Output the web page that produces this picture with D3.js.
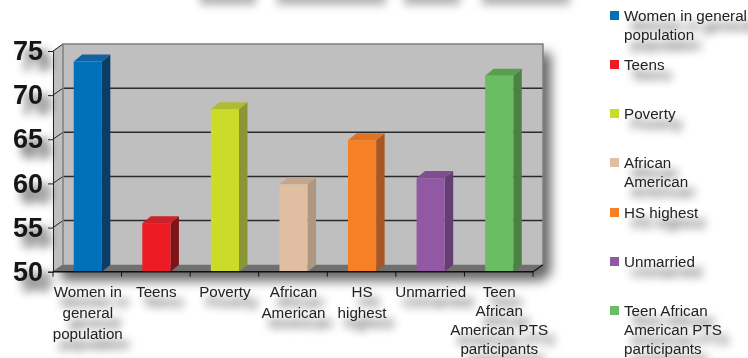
<!DOCTYPE html>
<html>
<head>
<meta charset="utf-8">
<script src="https://cdnjs.cloudflare.com/ajax/libs/d3/7.8.5/d3.min.js"></script>
<style>
html,body{margin:0;padding:0;background:#fff}
svg{display:block}
text{font-family:"Liberation Sans",Arial,sans-serif}
</style>
</head>
<body>
<script>
// Percent of births by group, charted as pseudo-3D columns
const categories = ["Women in general population","Teens","Poverty","African American","HS highest","Unmarried","Teen African American PTS participants"];
const values = [73.8,55.5,68.4,59.9,64.9,60.6,72.2];
const colors = ["#0070BA","#ED1C24","#CBDB2A","#E0BEA2","#F68026","#9159A4","#6ABD62"];
const sideColors = ["#0C3D66","#7F1418","#8A9636","#AE9680","#A85623","#653F73","#4B8243"];
const topColors = ["#14619F","#CC2229","#AFBB33","#C2A68D","#DD7325","#7F4E8F","#5A9E50"];
const yTicks = [50,55,60,65,70,75];
const axisLabelLines = [["Women in","general","population"],["Teens"],["Poverty"],["African","American"],["HS","highest"],["Unmarried"],["Teen","African","American PTS","participants"]];
const legendLines = [["Women in general","population"],["Teens"],["Poverty"],["African","American"],["HS highest"],["Unmarried"],["Teen African","American PTS","participants"]];
const legendTop = [13,62,111,160,210,259,308];
const hazeBands = [[200,256],[277,386],[404,460],[482,570]];

const W=748,H=358;
const depthX=10,depthY=7,barDepthX=8.5;
const y=d3.scaleLinear().domain([50,75]).range([271.7,51]);
const x=d3.scaleBand().domain(categories).range([53.5,533.5]).paddingInner(0.59).paddingOuter(0.295);

const svg=d3.select("body").append("svg").attr("width",W).attr("height",H);
const defs=svg.append("defs");
function shadow(id,dx,dy,sd,op){
  const f=defs.append("filter").attr("id",id).attr("x","-40%").attr("y","-60%").attr("width","200%").attr("height","260%");
  f.append("feGaussianBlur").attr("in","SourceAlpha").attr("stdDeviation",sd).attr("result","b");
  f.append("feOffset").attr("in","b").attr("dx",dx).attr("dy",dy).attr("result","o");
  f.append("feComponentTransfer").attr("in","o").attr("result","s").append("feFuncA").attr("type","linear").attr("slope",op);
  const m=f.append("feMerge");
  m.append("feMergeNode").attr("in","s");
  m.append("feMergeNode").attr("in","SourceGraphic");
}
shadow("softText",7,10,5,0.85);
shadow("softBold",8,10,5,0.75);
shadow("softPlot",8,9,6,0.6);
defs.append("filter").attr("id","haze").attr("filterUnits","userSpaceOnUse").attr("x",150).attr("y",-40).attr("width",470).attr("height",90)
  .append("feGaussianBlur").attr("stdDeviation",4);

// Soft smudge along the top edge of the page
svg.append("g").attr("filter","url(#haze)").selectAll("rect").data(hazeBands).join("rect")
  .attr("x",d=>d[0]).attr("width",d=>d[1]-d[0]).attr("y",-12).attr("height",17).attr("fill","#b4b4b4");

// Floor, wall and frame
const plot=svg.append("g");
const chartShadow=plot.append("g").attr("filter","url(#softPlot)");
const x0=53,x1=533,yBottom=y(50),yTop=y(75);
chartShadow.append("path").attr("fill","#BFBFBF")
  .attr("d",`M${x0+depthX},${yTop-depthY}H${x1+depthX}V${yBottom-depthY}L${x1},${yBottom}H${x0}V${yTop}Z`);
plot.append("path").attr("fill","#BFBFBF").attr("d",`M${x0},${yTop}L${x0+depthX},${yTop-depthY}V${yBottom-depthY}L${x0},${yBottom}Z`);
plot.append("path").attr("fill","#707070").attr("d",`M${x0},${yBottom}L${x0+depthX},${yBottom-depthY}H${x1+depthX}L${x1},${yBottom}Z`);

// Gridlines on the back wall and their slanted runs on the side wall
plot.selectAll(".grid").data(yTicks.slice(1,-1)).join("line")
  .attr("x1",x0+depthX).attr("x2",x1+depthX).attr("y1",d=>y(d)-depthY).attr("y2",d=>y(d)-depthY)
  .attr("stroke","#2b2b2b").attr("stroke-width",1.5);
plot.selectAll(".slant").data(yTicks).join("line")
  .attr("x1",x0).attr("x2",x0+depthX).attr("y1",d=>y(d)).attr("y2",d=>y(d)-depthY)
  .attr("stroke",d=>d===50?"#777":"#222").attr("stroke-width",1);
plot.append("path").attr("fill","none").attr("stroke","#808080").attr("stroke-width",1.5)
  .attr("d",`M${x0+depthX},${yBottom-depthY}V${yTop-depthY}H${x1+depthX}V${yBottom-depthY}`);
plot.append("line").attr("x1",x1).attr("x2",x1+depthX).attr("y1",yBottom).attr("y2",yBottom-depthY)
  .attr("stroke","#111").attr("stroke-width",1.2);

// Columns
const bars=plot.selectAll(".bar").data(categories).join("g");
bars.each(function(c,i){
  const g=d3.select(this),l=x(c),r=l+x.bandwidth(),t=y(values[i]),b=yBottom;
  g.append("path").attr("fill",sideColors[i])
    .attr("d",`M${r},${t}L${r+barDepthX},${t-depthY}V${b-depthY}L${r},${b}Z`);
  g.append("path").attr("fill",topColors[i])
    .attr("d",`M${l},${t}L${l+barDepthX},${t-depthY}H${r+barDepthX}L${r},${t}Z`);
  g.append("rect").attr("x",l).attr("y",t).attr("width",x.bandwidth()).attr("height",b-t).attr("fill",colors[i]);
});

// Axes along the front edge
const yAxis=d3.axisLeft(y).tickValues(yTicks).tickSize(5).tickPadding(5);
const yG=plot.append("g").attr("transform",`translate(${x0},0)`).call(yAxis);
yG.select(".domain").attr("stroke","#222").attr("stroke-width",1);
yG.selectAll(".tick line").attr("stroke","#222");
yG.selectAll("text").attr("font-size",27).attr("font-weight","bold").attr("fill","#151515").attr("filter","url(#softBold)");

const tickXs=d3.range(categories.length+1).map(i=>x0+i*(x1-x0)/categories.length);
plot.append("line").attr("x1",x0).attr("x2",x1).attr("y1",yBottom).attr("y2",yBottom).attr("stroke","#111").attr("stroke-width",1.6);
plot.selectAll(".xt").data(tickXs).join("line").attr("x1",d=>d).attr("x2",d=>d).attr("y1",yBottom).attr("y2",yBottom+5).attr("stroke","#111");

// Category labels
const cat=svg.selectAll(".cat").data(categories).join("text")
  .attr("text-anchor","middle").attr("font-size",15.2).attr("fill","#222").attr("filter","url(#softText)");
cat.each(function(c,i){
  const n=axisLabelLines[i];
  d3.select(this).selectAll("tspan").data(n).join("tspan")
    .attr("x",x(c)+x.bandwidth()/2).attr("y",(d,j)=>297+j*(n.length>3?19:21)).text(d=>d);
});

// Legend column
const leg=svg.selectAll(".leg").data(categories).join("g");
leg.append("rect").attr("x",610).attr("y",(d,i)=>legendTop[i]-2).attr("width",9).attr("height",9).attr("fill",(d,i)=>colors[i]);
leg.append("text").attr("font-size",15.2).attr("fill","#222").attr("filter","url(#softText)").each(function(c,i){
  d3.select(this).selectAll("tspan").data(legendLines[i]).join("tspan")
    .attr("x",624).attr("y",(d,j)=>legendTop[i]+8+j*19).text(d=>d);
});
</script>
</body>
</html>
